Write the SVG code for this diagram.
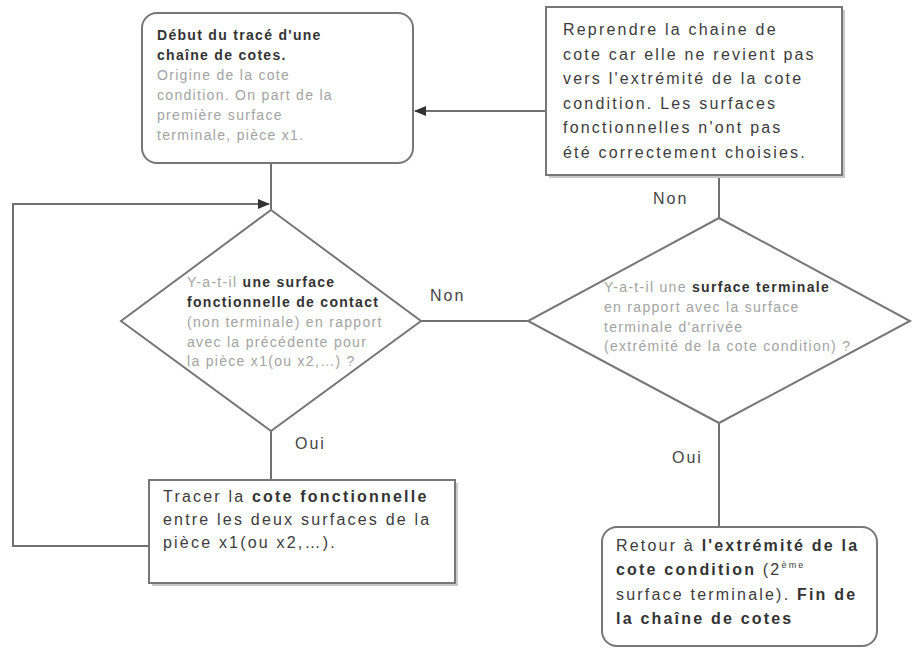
<svg xmlns="http://www.w3.org/2000/svg" width="916" height="648" viewBox="0 0 916 648">
<style>
  .shape { fill: #ffffff; stroke: #777777; stroke-width: 2; }
  .shadow { fill: #c8c8c8; stroke: none; }
  .conn { fill: none; stroke: #707070; stroke-width: 2; }
  .big { font-family: "Liberation Sans", Arial, sans-serif; font-size: 16px; letter-spacing: 2.2px; fill: #3c3c3c; }
  .small { font-family: "Liberation Sans", Arial, sans-serif; font-size: 14px; letter-spacing: 1.3px; fill: #a3a3a3; }
  .b { font-weight: bold; fill: #333333; }
  .lbl { font-family: "Liberation Sans", Arial, sans-serif; font-size: 16px; letter-spacing: 2px; fill: #444444; }
</style>
<defs>
  <marker id="arr" markerWidth="12" markerHeight="10" refX="11" refY="5" orient="auto" markerUnits="userSpaceOnUse">
    <path d="M0,0 L12,5 L0,10 Z" fill="#333333"/>
  </marker>
</defs>
<rect width="916" height="648" fill="#ffffff"/>

<g id="connectors">
  <line class="conn" x1="546" y1="111" x2="415" y2="111" marker-end="url(#arr)"/>
  <line class="conn" x1="271" y1="163" x2="271" y2="210"/>
  <polyline class="conn" points="149,546 13,546 13,204 269,204" marker-end="url(#arr)"/>
  <line class="conn" x1="421" y1="321" x2="528" y2="321"/>
  <line class="conn" x1="719" y1="175" x2="719" y2="218"/>
  <line class="conn" x1="719" y1="423" x2="719" y2="527"/>
  <line class="conn" x1="271" y1="431" x2="271" y2="480"/>
  <text class="lbl" x="430" y="301">Non</text>
  <text class="lbl" x="653" y="204">Non</text>
  <text class="lbl" x="295" y="449">Oui</text>
  <text class="lbl" x="672" y="463">Oui</text>
</g>

<g id="start">
  <rect class="shape" x="142" y="13" width="271" height="150" rx="15" ry="15"/>
  <text class="small" x="157" y="40"><tspan class="b">Début du tracé d'une</tspan></text>
  <text class="small" x="157" y="60"><tspan class="b">chaîne de cotes.</tspan></text>
  <text class="small" x="157" y="80">Origine de la cote</text>
  <text class="small" x="157" y="100">condition. On part de la</text>
  <text class="small" x="157" y="120">première surface</text>
  <text class="small" x="157" y="140">terminale, pièce x1.</text>
</g>

<g id="restart">
  <rect class="shadow" x="549" y="10" width="296" height="168"/>
  <rect class="shape" x="546" y="7" width="296" height="168"/>
  <text class="big" x="563" y="35">Reprendre la chaine de</text>
  <text class="big" x="563" y="59.6">cote car elle ne revient pas</text>
  <text class="big" x="563" y="84.2">vers l'extrémité de la cote</text>
  <text class="big" x="563" y="108.8">condition. Les surfaces</text>
  <text class="big" x="563" y="133.4">fonctionnelles n'ont pas</text>
  <text class="big" x="563" y="158">été correctement choisies.</text>
</g>

<g id="decision-contact">
  <polygon class="shape" points="271,210 421,321 271,431 121,321"/>
  <text class="small" x="187" y="287">Y-a-t-il <tspan class="b">une surface</tspan></text>
  <text class="small" x="187" y="307"><tspan class="b">fonctionnelle de contact</tspan></text>
  <text class="small" x="187" y="327">(non terminale) en rapport</text>
  <text class="small" x="187" y="346.5">avec la précédente pour</text>
  <text class="small" x="187" y="366">la pièce x1(ou x2,…) ?</text>
</g>

<g id="decision-terminal">
  <polygon class="shape" points="719,218 910,321 719,423 528,321"/>
  <text class="small" x="604" y="292">Y-a-t-il une <tspan class="b">surface terminale</tspan></text>
  <text class="small" x="604" y="312">en rapport avec la  surface</text>
  <text class="small" x="604" y="331.5">terminale d'arrivée</text>
  <text class="small" x="604" y="351">(extrémité de la cote condition) ?</text>
</g>

<g id="trace">
  <rect class="shadow" x="152" y="483" width="306" height="103"/>
  <rect class="shape" x="149" y="480" width="306" height="103"/>
  <text class="big" x="163" y="502">Tracer la <tspan font-weight="bold" fill="#333333">cote fonctionnelle</tspan></text>
  <text class="big" x="163" y="525">entre les deux surfaces de la</text>
  <text class="big" x="163" y="548">pièce x1(ou x2,…).</text>
</g>

<g id="end">
  <rect class="shape" x="602" y="527" width="275" height="119" rx="15" ry="15"/>
  <text class="big" x="616" y="551">Retour à <tspan font-weight="bold" fill="#333333">l'extrémité de la</tspan></text>
  <text class="big" x="616" y="575"><tspan font-weight="bold" fill="#333333">cote condition</tspan> (2<tspan font-size="9px" dy="-7">ème</tspan></text>
  <text class="big" x="616" y="600">surface terminale). <tspan font-weight="bold" fill="#333333">Fin de</tspan></text>
  <text class="big" x="616" y="624"><tspan font-weight="bold" fill="#333333">la chaîne de cotes</tspan></text>
</g>
</svg>
